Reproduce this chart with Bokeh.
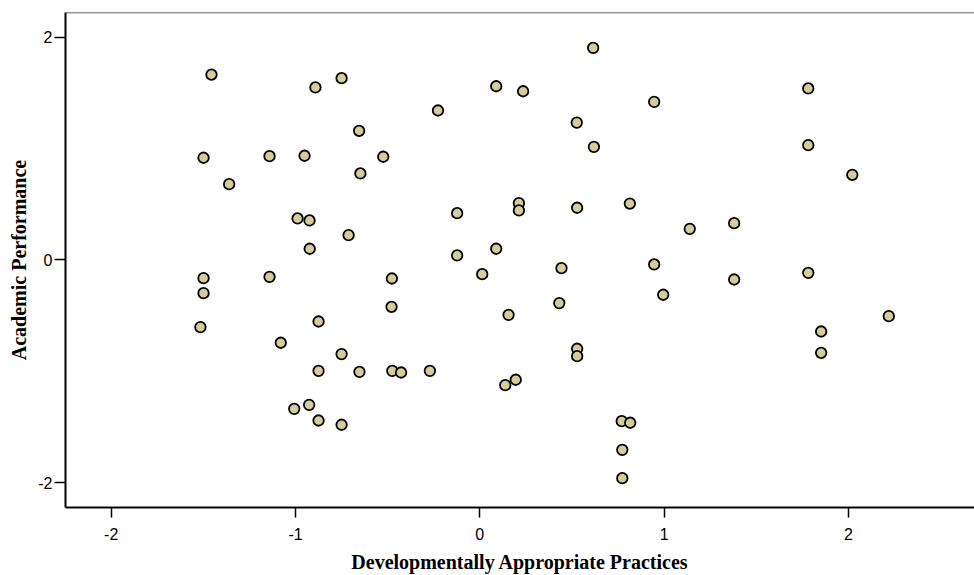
from bokeh.plotting import figure
from bokeh.models import FixedTicker, Span, Range1d
from bokeh.embed import file_html
from bokeh.resources import INLINE

# Developmentally Appropriate Practices (x) vs Academic Performance (y)
dap = [-1.456, -0.892, -0.750, -0.227, -0.655, -1.499, -1.141, -0.951, -0.524, -0.648,
       -1.360, -0.989, -0.924, -0.712, -0.923, -0.123, -0.123, 0.013, -1.499, -1.141,
       -0.477, 0.615, 0.089, 0.235, 0.946, 0.526, 0.619, 1.782, 1.782, 2.021,
       0.212, 0.212, 0.528, 0.814, 1.139, 1.380, 0.089, 0.443, 0.946, 1.380,
       1.782, 0.995, -1.499, -1.516, -0.479, -0.875, -1.080, -0.750, -0.875, -0.653,
       -0.475, -0.427, -0.271, -0.926, -1.007, -0.875, -0.750, 0.156, 0.431, 0.528,
       0.528, 0.138, 0.195, 0.770, 0.816, 0.773, 0.773, 1.852, 1.852, 2.219]
perf = [1.663, 1.547, 1.630, 1.340, 1.158, 0.916, 0.930, 0.934, 0.925, 0.775,
        0.679, 0.371, 0.353, 0.221, 0.099, 0.418, 0.039, -0.129, -0.165, -0.153,
        -0.168, 1.903, 1.558, 1.513, 1.418, 1.232, 1.014, 1.538, 1.029, 0.763,
        0.508, 0.443, 0.467, 0.505, 0.278, 0.329, 0.099, -0.075, -0.042, -0.177,
        -0.117, -0.314, -0.300, -0.605, -0.422, -0.554, -0.745, -0.847, -0.997, -1.006,
        -0.997, -1.012, -0.997, -1.302, -1.338, -1.443, -1.481, -0.494, -0.389, -0.799,
        -0.865, -1.126, -1.077, -1.449, -1.463, -1.706, -1.961, -0.644, -0.835, -0.506]

x_ticks = [-2, -1, 0, 1, 2]
x_tick_labels = ["-2", "-1", "0", "1", "2"]
y_ticks = [-2, 0, 2]
y_tick_labels = ["-2", "0", "2"]

X_MIN, X_MAX = -2.248, 2.684
Y_MIN, Y_MAX = -2.224, 2.220

p = figure(width=974, height=575, output_backend="svg", toolbar_location=None,
           x_range=Range1d(X_MIN, X_MAX), y_range=Range1d(Y_MIN, Y_MAX),
           min_border_left=65, min_border_right=0, min_border_top=12, min_border_bottom=68)
p.outline_line_color = None
p.outline_line_alpha = 0
p.outline_line_width = 0
p.xgrid.visible = False
p.ygrid.visible = False
p.background_fill_color = "white"
p.border_fill_color = "white"

p.scatter(dap, perf, size=10.5, fill_color="#D3CD9B", line_color="black", line_width=1.8)

for ax, ticks, labels in ((p.xaxis[0], x_ticks, x_tick_labels), (p.yaxis[0], y_ticks, y_tick_labels)):
    ax.ticker = FixedTicker(ticks=ticks)
    ax.major_label_overrides = {t: l for t, l in zip(ticks, labels)}
    ax.minor_tick_line_color = None
    ax.major_tick_in = 0
    ax.major_tick_line_width = 1.5
    ax.major_tick_line_color = "black"
    ax.axis_line_width = 2
    ax.axis_line_color = "black"
    ax.major_label_text_font = "Liberation Sans"
    ax.major_label_text_font_size = "16px"
    ax.major_label_text_color = "black"
    ax.axis_label_text_font = "Liberation Serif"
    ax.axis_label_text_font_style = "bold"
    ax.axis_label_text_font_size = "20px"
    ax.axis_label_text_color = "black"

p.xaxis[0].axis_label = "Developmentally Appropriate Practices"
p.yaxis[0].axis_label = "Academic Performance"
p.xaxis[0].major_tick_out = 10
p.xaxis[0].major_label_standoff = 10
p.xaxis[0].axis_label_standoff = 8
p.yaxis[0].major_tick_out = 11
p.yaxis[0].major_label_standoff = 2
p.yaxis[0].axis_label_standoff = 5

p.add_layout(Span(location=Y_MAX, dimension="width", line_color="#333333", line_width=1.5))

open("out.html", "w").write(file_html(p, INLINE))
